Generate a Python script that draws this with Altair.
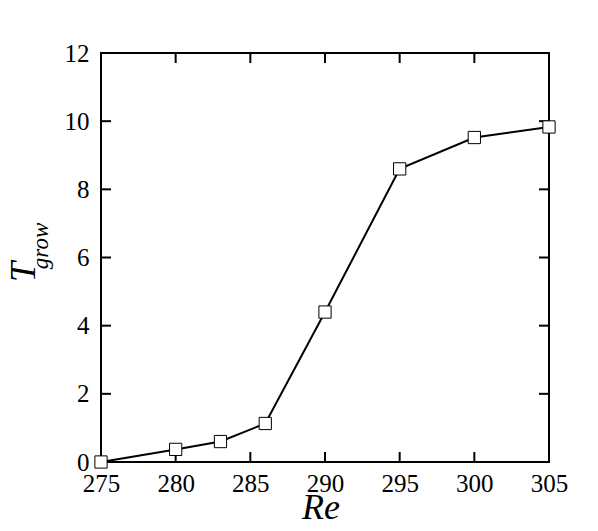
import altair as alt
import pandas as pd

re_vals = [275, 280, 283, 286, 290, 295, 300, 305]
t_grow = [0.0, 0.37, 0.6, 1.13, 4.4, 8.6, 9.52, 9.83]
x_ticks = [280, 285, 290, 295, 300]
y_ticks = [2, 4, 6, 8, 10]
x_labels = [275, 280, 285, 290, 295, 300, 305]
y_labels = [0, 2, 4, 6, 8, 10, 12]

W, H = 448, 409
FONT = "Liberation Serif"
TL = 10

df = pd.DataFrame({"Re": re_vals, "T": t_grow})
xt = pd.DataFrame({"Re": x_ticks})
yt = pd.DataFrame({"T": y_ticks})

xs = alt.Scale(domain=[275, 305], nice=False, zero=False)
ys = alt.Scale(domain=[0, 12], nice=False)

xaxis = alt.Axis(values=x_labels, title=None, labelPadding=9, labelFontSize=25,
                 labelFont=FONT, labelColor="black", domain=False, ticks=False, grid=False,
                 labelFlush=False, labelOverlap=False)
yaxis = alt.Axis(values=y_labels, title=None, labelPadding=12, labelFontSize=25,
                 labelFont=FONT, labelColor="black", domain=False, ticks=False, grid=False,
                 labelFlush=False, labelOverlap=False)

base = alt.Chart(df)
line = base.mark_line(color="black", strokeWidth=2).encode(
    x=alt.X("Re:Q", scale=xs, axis=xaxis),
    y=alt.Y("T:Q", scale=ys, axis=yaxis),
)
pts = base.mark_point(shape="square", size=150, filled=True, fill="white",
                      stroke="black", strokeWidth=1, opacity=1).encode(
    x=alt.X("Re:Q", scale=xs),
    y=alt.Y("T:Q", scale=ys),
)

bt = alt.Chart(xt).mark_rule(color="black", strokeWidth=2).encode(
    x=alt.X("Re:Q", scale=xs), y=alt.value(H), y2=alt.value(H - TL))
tt = alt.Chart(xt).mark_rule(color="black", strokeWidth=2).encode(
    x=alt.X("Re:Q", scale=xs), y=alt.value(0), y2=alt.value(TL))
lt = alt.Chart(yt).mark_rule(color="black", strokeWidth=2).encode(
    y=alt.Y("T:Q", scale=ys), x=alt.value(0), x2=alt.value(TL))
rt = alt.Chart(yt).mark_rule(color="black", strokeWidth=2).encode(
    y=alt.Y("T:Q", scale=ys), x=alt.value(W), x2=alt.value(W - TL))

xtitle = alt.Chart(pd.DataFrame({"t": ["Re"]})).mark_text(
    font=FONT, fontSize=36, fontStyle="italic", color="black",
    align="center", baseline="alphabetic").encode(
    text="t:N", x=alt.value(220), y=alt.value(466))
ytitle = alt.Chart(pd.DataFrame({"t": ["T"]})).mark_text(
    font=FONT, fontSize=36, fontStyle="italic", color="black",
    align="center", baseline="alphabetic", angle=270).encode(
    text="t:N", x=alt.value(-66), y=alt.value(219))
ysub = alt.Chart(pd.DataFrame({"t": ["grow"]})).mark_text(
    font=FONT, fontSize=23, fontStyle="italic", color="black",
    align="center", baseline="alphabetic", angle=270).encode(
    text="t:N", x=alt.value(-53), y=alt.value(193))

chart = alt.layer(line, bt, tt, lt, rt, pts, xtitle, ytitle, ysub).properties(
    width=W, height=H,
    autosize=alt.AutoSizeParams(type="none"),
    padding={"left": 93, "top": 45, "right": 41, "bottom": 61},
    background="white",
).configure_view(stroke="black", strokeWidth=2)

chart.save("out.html", embed_options={"renderer": "svg", "actions": False})
